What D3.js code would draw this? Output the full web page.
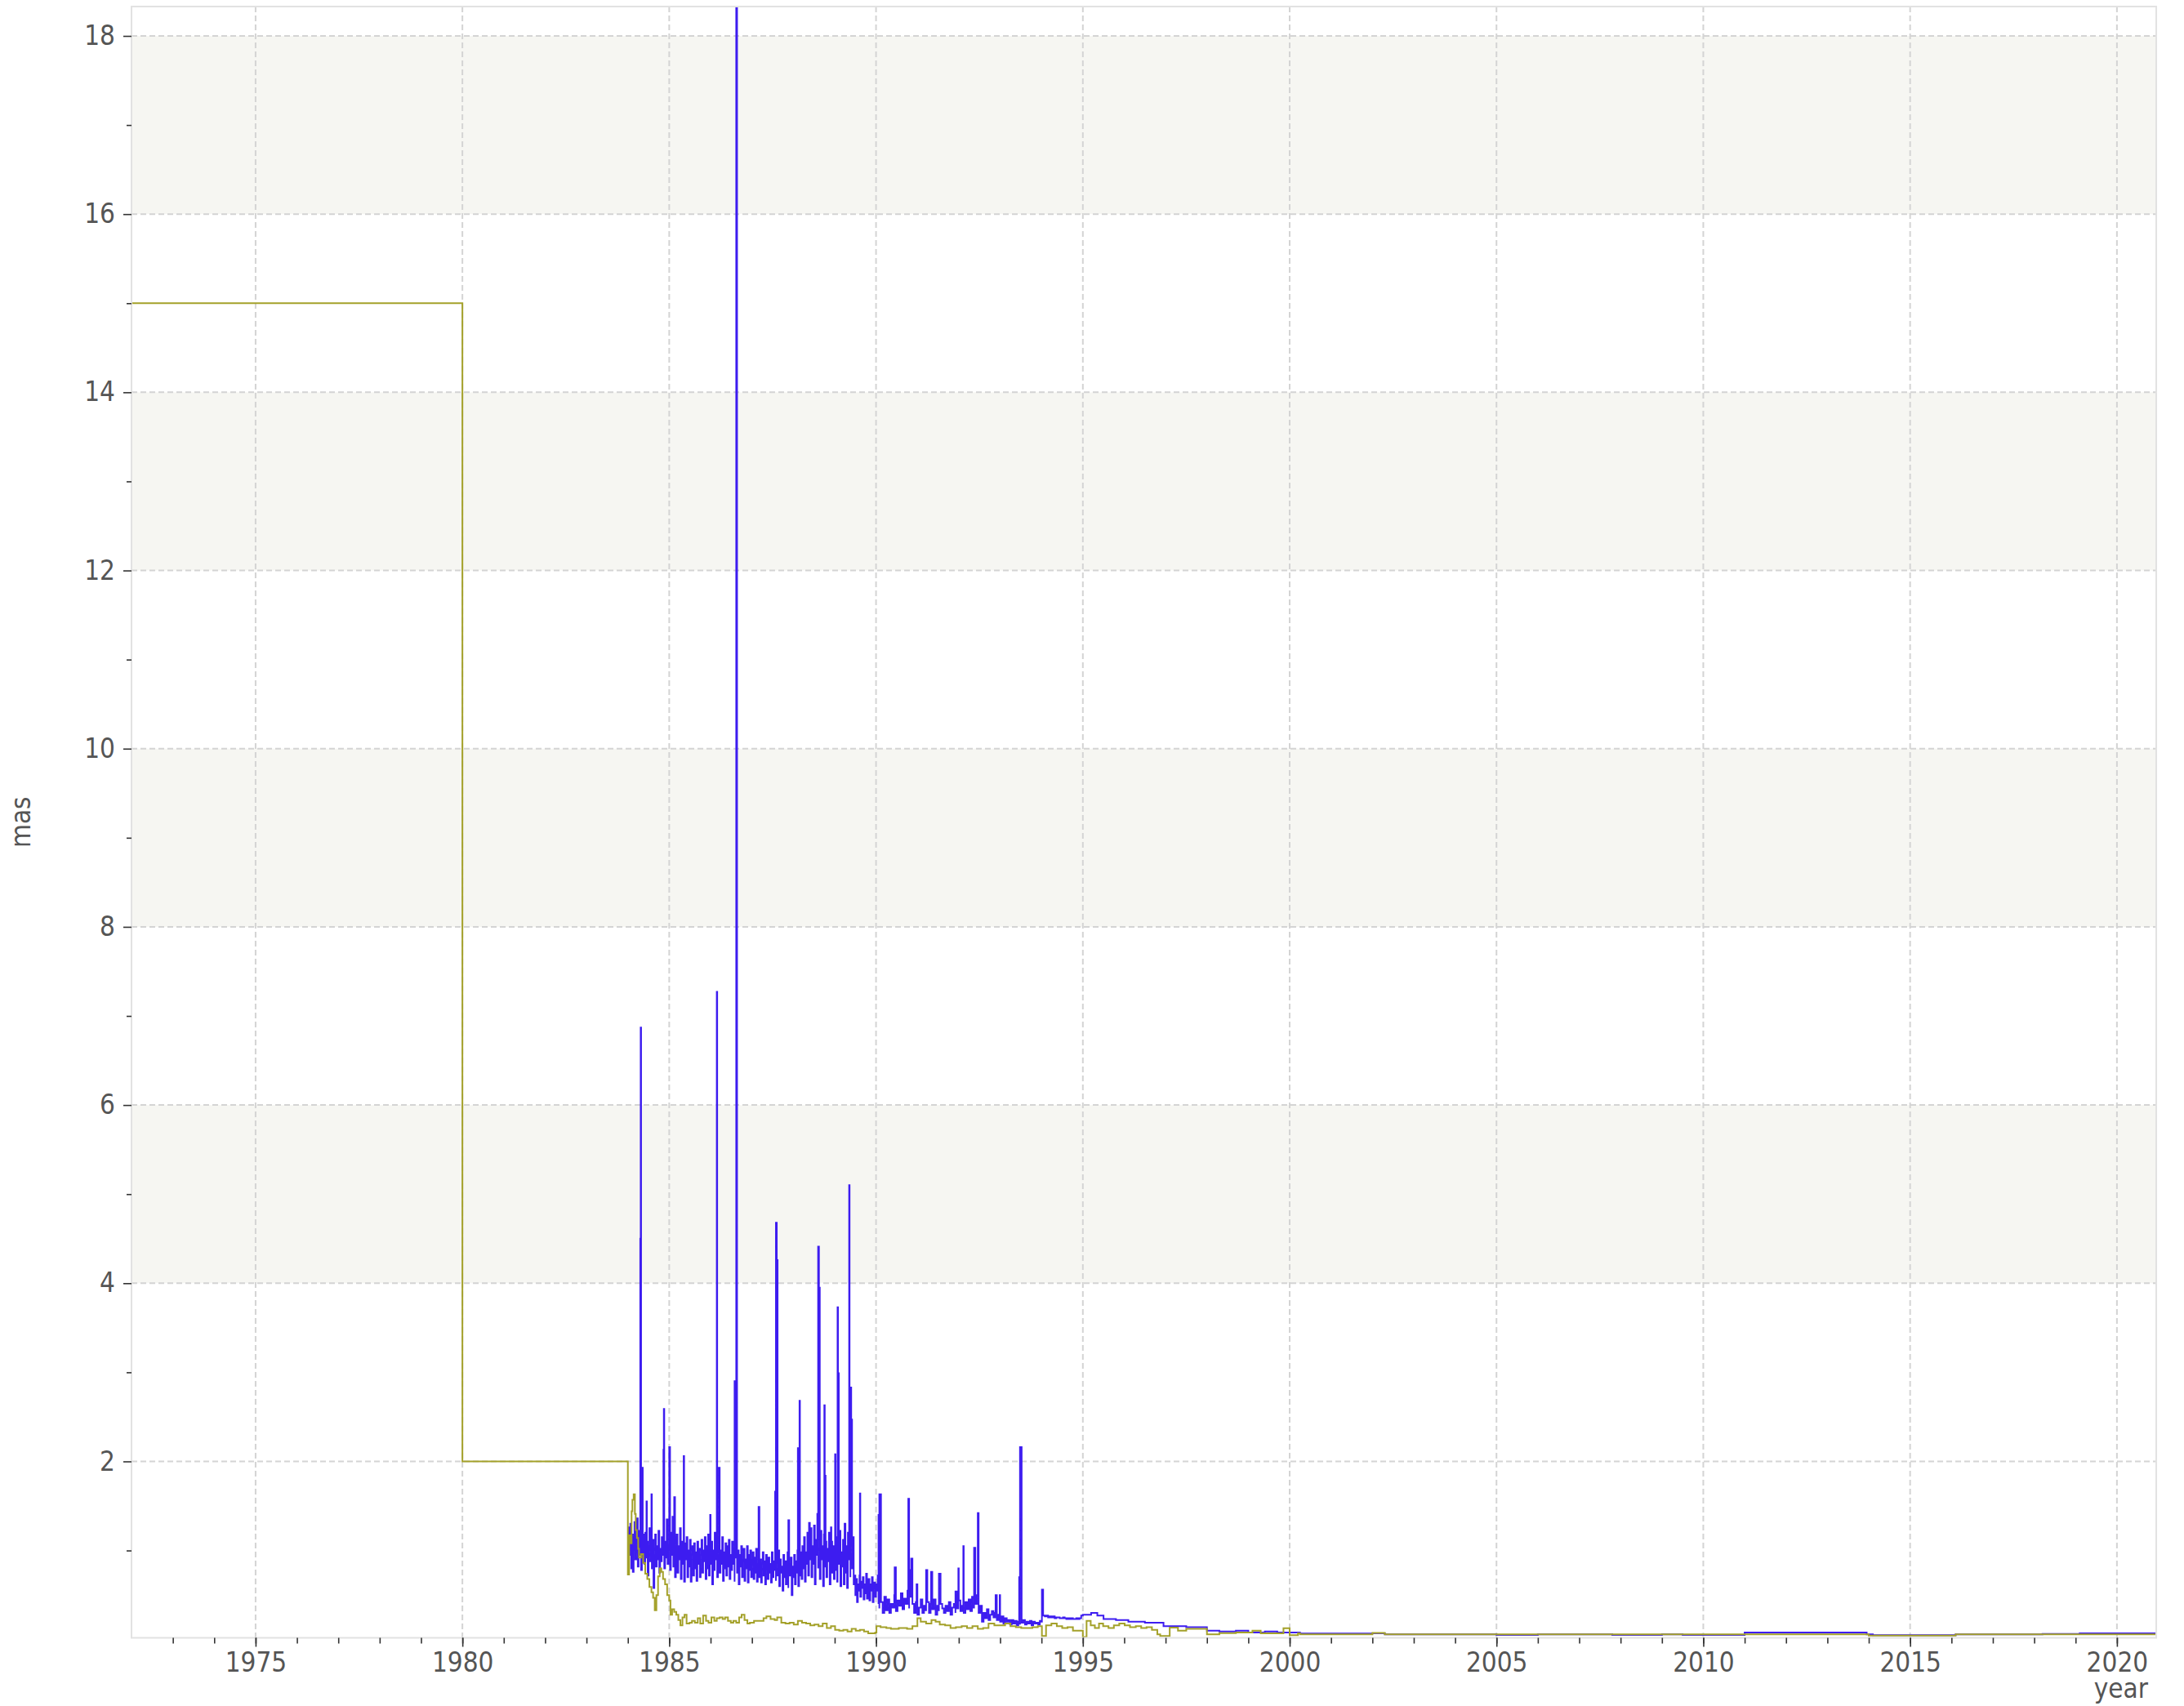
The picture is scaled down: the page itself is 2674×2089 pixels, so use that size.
<!DOCTYPE html>
<html>
<head>
<meta charset="utf-8">
<script src="https://cdn.jsdelivr.net/npm/d3@7"></script>
<style>
body { margin: 0; background: #fff; }
text { font-family: "DejaVu Sans Condensed", "DejaVu Sans", sans-serif; font-stretch: condensed; }
</style>
</head>
<body>
<div id="chart"></div>
<script>
// ---- data (year, mas) ----

// olive series: the early constant steps, then the noisy part
var oliveSteps = [[1972.0, 15], [1980.0, 2]];
var oliveNoisy = [
    [1984.00, 0.73], [1984.03, 1.17], [1984.07, 1.08], [1984.09, 1.44], [1984.11, 1.57], [1984.14, 1.63],
    [1984.17, 1.41], [1984.19, 1.23], [1984.22, 1.14], [1984.25, 1.02], [1984.27, 0.92], [1984.32, 0.96],
    [1984.37, 0.86], [1984.42, 0.74], [1984.47, 0.68], [1984.52, 0.59], [1984.57, 0.53], [1984.61, 0.47],
    [1984.65, 0.33], [1984.69, 0.50], [1984.73, 0.71], [1984.77, 0.80], [1984.81, 0.76], [1984.85, 0.68],
    [1984.90, 0.62], [1984.95, 0.50], [1985.00, 0.44], [1985.03, 0.28], [1985.07, 0.34], [1985.12, 0.31],
    [1985.17, 0.28], [1985.22, 0.22], [1985.27, 0.16], [1985.32, 0.25], [1985.37, 0.28], [1985.42, 0.18],
    [1985.49, 0.19], [1985.55, 0.21], [1985.62, 0.19], [1985.69, 0.24], [1985.75, 0.18], [1985.82, 0.27],
    [1985.89, 0.21], [1985.95, 0.19], [1986.02, 0.25], [1986.09, 0.21], [1986.15, 0.24], [1986.22, 0.25],
    [1986.29, 0.23], [1986.35, 0.25], [1986.42, 0.21], [1986.49, 0.19], [1986.55, 0.21], [1986.62, 0.19],
    [1986.69, 0.25], [1986.75, 0.28], [1986.82, 0.22], [1986.89, 0.18], [1986.95, 0.19], [1987.05, 0.21],
    [1987.18, 0.21], [1987.28, 0.24], [1987.35, 0.26], [1987.45, 0.23], [1987.55, 0.22], [1987.61, 0.25],
    [1987.71, 0.19], [1987.81, 0.18], [1987.91, 0.19], [1988.01, 0.17], [1988.11, 0.21], [1988.21, 0.19],
    [1988.31, 0.18], [1988.41, 0.16], [1988.51, 0.17], [1988.61, 0.15], [1988.71, 0.18], [1988.81, 0.13],
    [1988.91, 0.15], [1989.01, 0.11], [1989.11, 0.10], [1989.21, 0.11], [1989.31, 0.09], [1989.41, 0.12],
    [1989.51, 0.10], [1989.61, 0.11], [1989.71, 0.09], [1989.81, 0.07], [1989.91, 0.07], [1989.98, 0.08],
    [1990.01, 0.15], [1990.11, 0.14], [1990.25, 0.13], [1990.36, 0.12], [1990.55, 0.13], [1990.75, 0.12],
    [1990.88, 0.15], [1991.00, 0.24], [1991.08, 0.20], [1991.21, 0.18], [1991.34, 0.22], [1991.44, 0.20],
    [1991.54, 0.17], [1991.67, 0.16], [1991.80, 0.13], [1991.93, 0.14], [1992.07, 0.15], [1992.20, 0.13],
    [1992.33, 0.15], [1992.46, 0.12], [1992.59, 0.13], [1992.72, 0.18], [1992.86, 0.16], [1992.99, 0.16],
    [1993.12, 0.18], [1993.25, 0.15], [1993.38, 0.14], [1993.51, 0.13], [1993.64, 0.13], [1993.78, 0.14],
    [1993.91, 0.15], [1994.01, 0.04], [1994.11, 0.16], [1994.24, 0.18], [1994.37, 0.15], [1994.50, 0.13],
    [1994.63, 0.14], [1994.76, 0.10], [1994.89, 0.10], [1995.00, 0.03], [1995.09, 0.21], [1995.19, 0.16],
    [1995.29, 0.13], [1995.39, 0.18], [1995.49, 0.15], [1995.62, 0.13], [1995.75, 0.16], [1995.88, 0.18],
    [1996.01, 0.16], [1996.14, 0.14], [1996.28, 0.15], [1996.41, 0.13], [1996.54, 0.14], [1996.67, 0.11],
    [1996.80, 0.06], [1996.87, 0.04], [1997.10, 0.135], [1997.30, 0.10], [1997.50, 0.12], [1997.80, 0.12],
    [1998.00, 0.058], [1998.30, 0.073], [1998.70, 0.08], [1999.10, 0.10], [1999.30, 0.07], [1999.60, 0.07],
    [1999.85, 0.127], [2000.00, 0.05], [2000.20, 0.07]
];
var oliveTail = [[2000.25, 0.058], [2002.0, 0.075], [2002.3, 0.058], [2014.0, 0.045], [2016.1, 0.058], [2020.95, 0.058]];

// blue series: dense samples 1984.00 .. 1990.06 every 0.02 yr
var blueBandStart = 1984.0, blueBandStep = 0.02;
var blueBand = [
    1.26, 0.95, 1.10, 1.30, 0.80, 1.18, 0.76, 1.05, 1.32, 0.90,
    1.15, 1.36, 0.82, 1.22, 0.95, 1.12, 0.78, 1.08, 0.90, 1.18,
    0.85, 1.20, 0.92, 1.10, 0.72, 1.05, 1.25, 0.88, 1.00, 0.80,
    1.12, 0.58, 0.95, 1.18, 0.82, 1.05, 0.90, 1.22, 0.75, 1.02,
    0.88, 1.15, 0.95, 1.28, 0.80, 1.10, 0.92, 1.35, 0.85, 1.05,
    1.30, 0.78, 1.20, 0.95, 1.38, 0.82, 1.12, 0.70, 1.00, 1.18,
    0.75, 1.05, 0.90, 1.25, 0.68, 1.10, 0.85, 1.02, 0.65, 1.08,
    0.90, 1.15, 0.70, 1.00, 0.82, 1.12, 0.65, 0.95, 1.05, 0.72,
    1.08, 0.80, 0.98, 0.66, 1.10, 0.85, 1.02, 0.70, 0.95, 1.12,
    0.75, 1.00, 0.88, 1.15, 0.68, 1.05, 0.80, 1.18, 0.72, 0.98,
    0.85, 1.10, 0.62, 1.00, 0.78, 1.20, 0.90, 1.05, 0.70, 0.95,
    1.12, 0.75, 1.00, 0.85, 1.15, 0.66, 0.98, 0.80, 1.08, 0.72,
    1.05, 0.82, 1.12, 0.68, 0.95, 0.78, 1.10, 0.85, 1.00, 0.65,
    0.92, 1.08, 0.75, 1.00, 0.62, 0.95, 0.82, 1.05, 0.70, 0.88,
    1.02, 0.66, 0.90, 0.80, 1.05, 0.64, 0.95, 0.78, 1.00, 0.70,
    0.88, 0.98, 0.68, 0.92, 0.75, 1.02, 0.65, 0.85, 0.95, 0.70,
    0.90, 0.64, 0.85, 0.98, 0.72, 0.88, 0.62, 0.95, 0.80, 0.68,
    0.92, 0.75, 0.85, 0.64, 0.98, 0.70, 0.88, 0.78, 0.95, 0.66,
    0.85, 0.72, 1.00, 0.60, 0.90, 0.75, 0.82, 0.55, 0.95, 0.70,
    0.88, 0.62, 0.80, 0.98, 0.58, 0.85, 0.72, 0.92, 0.50, 0.82,
    0.70, 0.95, 0.62, 0.88, 0.75, 1.00, 0.60, 0.85, 0.72, 0.98,
    0.68, 1.05, 0.80, 1.15, 0.65, 0.98, 0.85, 1.20, 0.72, 1.10,
    0.90, 1.25, 0.70, 1.05, 0.85, 1.28, 0.62, 1.12, 0.95, 1.30,
    0.80, 1.15, 0.68, 1.22, 0.90, 1.05, 0.60, 1.18, 0.82, 1.10,
    0.70, 1.02, 0.88, 1.20, 0.62, 0.95, 1.10, 0.75, 1.05, 0.68,
    1.00, 0.78, 1.15, 0.65, 1.08, 0.85, 1.22, 0.60, 0.98, 0.82,
    1.12, 0.62, 1.30, 0.75, 1.05, 0.58, 1.20, 0.90, 1.35, 0.70,
    1.05, 0.80, 1.15, 0.62, 0.72, 0.50, 0.68, 0.42, 0.62, 0.55,
    0.72, 0.48, 0.65, 0.58, 0.70, 0.45, 0.62, 0.52, 0.74, 0.46,
    0.60, 0.68, 0.44, 0.62, 0.55, 0.70, 0.42, 0.58, 0.64, 0.48,
    0.62, 0.55, 0.72, 0.40
];
// then every 0.04 yr from 1990.08 to 1994.96
var blueLateStart = 1990.08, blueLateStep = 0.04;
var blueLate = [
    0.35, 0.42, 0.30, 0.48, 0.33, 0.45, 0.30, 0.40, 0.36, 0.50,
    0.32, 0.44, 0.38, 0.52, 0.34, 0.46, 0.40, 0.55, 0.35, 0.48,
    0.40, 0.30, 0.42, 0.28, 0.36, 0.45, 0.30, 0.38, 0.33, 0.42,
    0.30, 0.40, 0.34, 0.45, 0.28, 0.38, 0.32, 0.40, 0.35, 0.30,
    0.38, 0.32, 0.42, 0.28, 0.36, 0.40, 0.30, 0.35, 0.44, 0.32,
    0.38, 0.30, 0.42, 0.34, 0.45, 0.32, 0.48, 0.36, 0.40, 0.50,
    0.30, 0.38, 0.20, 0.30, 0.24, 0.34, 0.22, 0.28, 0.32, 0.25,
    0.30, 0.22, 0.28, 0.20, 0.26, 0.18, 0.24, 0.20, 0.22, 0.17,
    0.22, 0.18, 0.21, 0.16, 0.20, 0.17, 0.19, 0.22, 0.17, 0.20,
    0.18, 0.21, 0.16, 0.20, 0.18, 0.19, 0.17, 0.21, 0.20, 0.27,
    0.26, 0.27, 0.25, 0.26, 0.25, 0.26, 0.24, 0.25, 0.25, 0.24,
    0.24, 0.25, 0.24, 0.23, 0.24, 0.23, 0.24, 0.23, 0.23, 0.24,
    0.23, 0.24, 0.27
];
// isolated spikes on the blue series
var blueSpikes = [
    [1984.30, 4.50], [1984.31, 6.87], [1984.35, 1.93], [1984.45, 1.55], [1984.57, 1.63], [1984.86, 2.13],
    [1984.87, 2.59], [1985.00, 2.16], [1985.12, 1.60], [1985.35, 2.06], [1985.99, 1.40], [1986.15, 7.27],
    [1986.20, 1.93], [1986.58, 2.90], [1986.62, 18.33], [1987.16, 1.49], [1987.56, 1.66], [1987.58, 4.68],
    [1987.60, 4.26], [1987.88, 1.34], [1988.11, 2.15], [1988.15, 2.68], [1988.38, 1.31], [1988.58, 1.41],
    [1988.60, 4.41], [1988.62, 3.95], [1988.75, 2.63], [1988.77, 1.84], [1988.91, 1.26], [1989.01, 2.08],
    [1989.07, 3.73], [1989.09, 2.99], [1989.35, 5.10], [1989.38, 2.83], [1989.40, 2.47], [1989.61, 1.64],
    [1990.06, 1.40], [1990.08, 1.63], [1990.45, 0.81], [1990.78, 1.58], [1990.80, 0.78], [1990.85, 0.91],
    [1990.98, 0.62], [1991.21, 0.78], [1991.33, 0.76], [1991.52, 0.74], [1991.92, 0.54], [1991.99, 0.80],
    [1992.11, 1.05], [1992.37, 1.03], [1992.46, 1.42], [1992.89, 0.50], [1992.99, 0.50], [1993.46, 0.70],
    [1993.48, 2.16], [1994.01, 0.56]
];
var blueTail = [
    [1995.0, 0.28], [1995.2, 0.30], [1995.35, 0.27], [1995.5, 0.23], [1995.8, 0.22], [1996.1, 0.20],
    [1996.5, 0.19], [1996.95, 0.15], [1997.5, 0.14], [1998.0, 0.10], [1998.3, 0.09], [1998.7, 0.10],
    [1999.0, 0.08], [1999.4, 0.09], [1999.7, 0.08], [2000.25, 0.068], [2002.0, 0.07], [2002.3, 0.06],
    [2005.0, 0.052], [2006.0, 0.06], [2007.8, 0.052], [2009.0, 0.06], [2009.5, 0.052], [2011.0, 0.08],
    [2013.95, 0.06], [2014.1, 0.05], [2016.1, 0.058], [2018.2, 0.064], [2019.1, 0.07], [2020.95, 0.07]
];

// axis ticks
var xMajor = [1975, 1980, 1985, 1990, 1995, 2000, 2005, 2010, 2015, 2020];
var xMinor = d3.range(1973, 2021);
var yMajor = [2, 4, 6, 8, 10, 12, 14, 16, 18];
var yMinor = [1, 3, 5, 7, 9, 11, 13, 15, 17];
var yBands = [[4, 6], [8, 10], [12, 14], [16, 18]];
var yMin = 0.02;

// ---- build the series ----
var olive = oliveSteps.concat(oliveNoisy, oliveTail);

var blue = [];
blueBand.forEach(function (v, i) { blue.push([blueBandStart + i * blueBandStep, v]); });
blueLate.forEach(function (v, i) { blue.push([blueLateStart + i * blueLateStep, v]); });
blue = blue.concat(blueSpikes, blueTail);
blue.sort(function (a, b) { return a[0] - b[0]; });

// ---- layout ----
var W = 2674, H = 2089;
var margin = { top: 8, left: 161, right: 34, bottom: 83.5 };
var w = W - margin.left - margin.right,
    h = H - margin.top - margin.bottom;

var svg = d3.select("#chart").append("svg")
    .attr("width", W)
    .attr("height", H)
    .style("background", "#fff");

var g = svg.append("g").attr("transform", "translate(" + margin.left + "," + margin.top + ")");

var x = d3.scaleLinear()
    .domain(d3.extent(olive.concat(blue), function (d) { return d[0]; }))
    .range([0, w]);

var y = d3.scaleLinear()
    .domain([yMin, d3.max(blue, function (d) { return d[1]; })])
    .range([h, 0]);

// alternating bands
g.selectAll(".band")
    .data(yBands)
    .enter()
    .append("rect")
    .attr("x", 0)
    .attr("width", w)
    .attr("y", function (d) { return y(d[1]); })
    .attr("height", function (d) { return y(d[0]) - y(d[1]); })
    .style("fill", "#f6f6f2");

// dashed grid
g.selectAll(".hgrid")
    .data(yMajor)
    .enter()
    .append("line")
    .attr("x1", 0).attr("x2", w)
    .attr("y1", function (d) { return y(d); })
    .attr("y2", function (d) { return y(d); })
    .style("stroke", "#d4d4d4")
    .style("stroke-width", 2)
    .style("stroke-dasharray", "7,4");

g.selectAll(".vgrid")
    .data(xMajor)
    .enter()
    .append("line")
    .attr("y1", 0).attr("y2", h)
    .attr("x1", function (d) { return x(d); })
    .attr("x2", function (d) { return x(d); })
    .style("stroke", "#d4d4d4")
    .style("stroke-width", 2)
    .style("stroke-dasharray", "7,4");

// the two lines
var line = d3.line()
    .x(function (d) { return x(d[0]); })
    .y(function (d) { return y(d[1]); })
    .curve(d3.curveStepAfter);

g.append("path")
    .datum(blue)
    .attr("d", line)
    .style("fill", "none")
    .style("stroke", "#3d1cf0")
    .style("stroke-width", 2);

g.append("path")
    .datum(olive)
    .attr("d", line)
    .style("fill", "none")
    .style("stroke", "#a4a12a")
    .style("stroke-width", 2);

// plot frame
g.append("rect")
    .attr("x", 0).attr("y", 0)
    .attr("width", w).attr("height", h)
    .style("fill", "none")
    .style("stroke", "#e2e2e2")
    .style("stroke-width", 2);

// axes
function styleAxis(sel) {
    sel.select(".domain").remove();
    sel.selectAll(".tick line").style("stroke", "#333").style("stroke-width", 1.6);
    sel.selectAll(".tick text")
        .style("font-size", "33px")
        .style("fill", "#555")
        .style("font-family", '"DejaVu Sans Condensed", "DejaVu Sans", sans-serif');
}

g.append("g")
    .attr("transform", "translate(0," + h + ")")
    .call(d3.axisBottom(x).tickValues(xMinor).tickSize(7).tickFormat(""))
    .call(styleAxis);

g.append("g")
    .attr("transform", "translate(0," + h + ")")
    .call(d3.axisBottom(x).tickValues(xMajor).tickSize(11).tickPadding(7).tickFormat(d3.format("d")))
    .call(styleAxis);

g.append("g")
    .call(d3.axisLeft(y).tickValues(yMinor).tickSize(6).tickFormat(""))
    .call(styleAxis);

g.append("g")
    .call(d3.axisLeft(y).tickValues(yMajor).tickSize(10).tickPadding(10).tickFormat(d3.format("d")))
    .call(styleAxis);

// axis titles
svg.append("text")
    .attr("transform", "translate(37," + (margin.top + h / 2) + ") rotate(-90)")
    .style("text-anchor", "middle")
    .style("font-size", "33px")
    .style("fill", "#555")
    .text("mas");

svg.append("text")
    .attr("x", 2630)
    .attr("y", 2079)
    .style("text-anchor", "end")
    .style("font-size", "33px")
    .style("fill", "#555")
    .text("year");
</script>
</body>
</html>
